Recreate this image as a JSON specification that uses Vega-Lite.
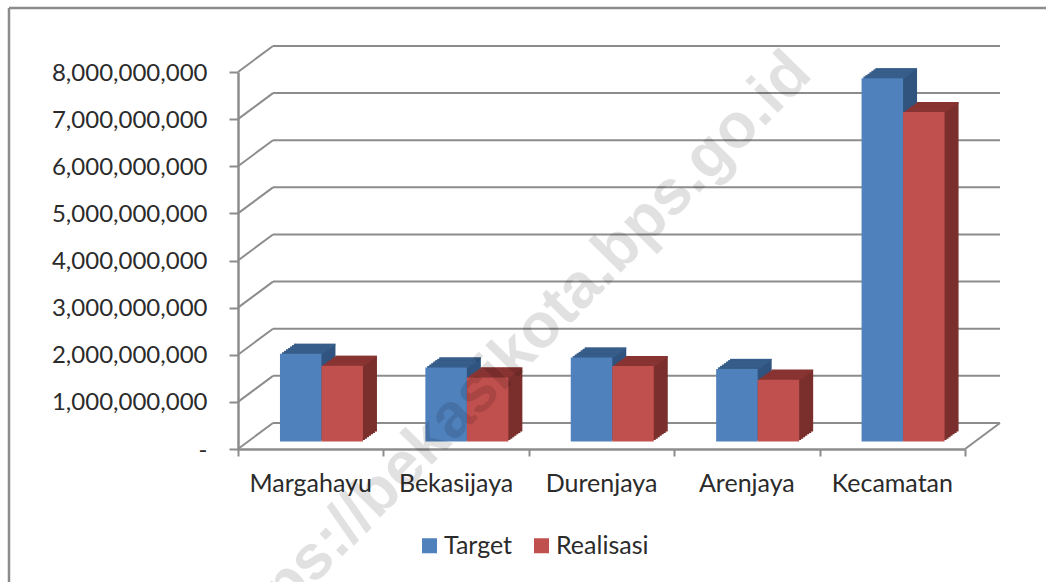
{
"$schema":"https://vega.github.io/schema/vega-lite/v6.json",
"width":727,"height":377,
"autosize":{"type":"none"},
"padding":{"left":238,"top":72,"right":81,"bottom":133},
"background":"white",
"config":{"view":{"stroke":null},"font":"Lato"},
"datasets":{
"bars":[
{"kelurahan":"Margahayu","seri":"Target","nilai":1860000000},
{"kelurahan":"Margahayu","seri":"Realisasi","nilai":1605000000},
{"kelurahan":"Bekasijaya","seri":"Target","nilai":1570000000},
{"kelurahan":"Bekasijaya","seri":"Realisasi","nilai":1360000000},
{"kelurahan":"Durenjaya","seri":"Target","nilai":1780000000},
{"kelurahan":"Durenjaya","seri":"Realisasi","nilai":1600000000},
{"kelurahan":"Arenjaya","seri":"Target","nilai":1540000000},
{"kelurahan":"Arenjaya","seri":"Realisasi","nilai":1310000000},
{"kelurahan":"Kecamatan","seri":"Target","nilai":7710000000},
{"kelurahan":"Kecamatan","seri":"Realisasi","nilai":6990000000}],
"grid":[
{"v":0,"back":552000000},{"v":1000000000,"back":1552000000},{"v":2000000000,"back":2552000000},
{"v":3000000000,"back":3552000000},{"v":4000000000,"back":4552000000},{"v":5000000000,"back":5552000000},
{"v":6000000000,"back":6552000000},{"v":7000000000,"back":7552000000},{"v":8000000000,"back":8552000000}],
"frame":[
{"a":-1.575,"b":5.6,"c":9358000000,"d":9358000000},
{"a":-1.575,"b":-1.575,"c":9358000000,"d":-3000000000}],
"mark":[{"teks":"https://bekasikota.bps.go.id","px":3.961,"py":7915000000}]
},
"resolve":{"scale":{"x":"independent"}},
"layer":[
{"layer":[
{"data":{"name":"frame"},"mark":{"type":"rule","color":"#8c8c8c","strokeWidth":2.5,"clip":false},
 "encoding":{"x":{"field":"a","type":"quantitative","scale":{"domain":[0,5],"nice":false,"zero":false},"axis":{"orient":"bottom","values":[0,1,2,3,4,5],"labels":false,"domain":false,"grid":false,"title":null,"tickSize":7,"tickColor":"#8c8c8c","tickWidth":2}},"x2":{"field":"b"},
 "y":{"field":"c","type":"quantitative","scale":{"domain":[0,8000000000],"nice":false},"axis":{"values":[0,1000000000,2000000000,3000000000,4000000000,5000000000,6000000000,7000000000,8000000000],"labelExpr":"datum.value==0?'-':format(datum.value,',')","labelFontSize":24,"labelColor":"#2b2b2b","labelPadding":22,"labelOffset":1,"tickSize":9,"tickColor":"#8c8c8c","tickWidth":2,"domainColor":"#8c8c8c","domainWidth":2.5,"grid":false,"title":null,"labelFont":"Lato"}},"y2":{"field":"d"}}},
{"data":{"name":"grid"},"mark":{"type":"rule","color":"#8c8c8c","strokeWidth":2},
 "encoding":{"x":{"datum":0.2407,"type":"quantitative"},"x2":{"datum":5.2407},"y":{"field":"back","type":"quantitative"}}},
{"data":{"name":"grid"},"mark":{"type":"rule","color":"#8c8c8c","strokeWidth":2},
 "encoding":{"x":{"datum":0,"type":"quantitative"},"x2":{"datum":0.2407},"y":{"field":"v","type":"quantitative"},"y2":{"field":"back"}}},
{"data":{"name":"grid"},"transform":[{"filter":"datum.v==0"}],"mark":{"type":"rule","color":"#8c8c8c","strokeWidth":2},
 "encoding":{"x":{"datum":5,"type":"quantitative"},"x2":{"datum":5.2407},"y":{"field":"v","type":"quantitative"},"y2":{"field":"back"}}}
]},
{"data":{"name":"bars"},
"resolve":{"scale":{"xOffset":"independent"}},
"encoding":{
"x":{"field":"kelurahan","type":"nominal","sort":["Margahayu","Bekasijaya","Durenjaya","Arenjaya","Kecamatan"],"scale":{"paddingInner":0.43,"paddingOuter":0.215},
 "axis":{"orient":"bottom","title":null,"labelAngle":0,"labelFontSize":25,"labelColor":"#2b2b2b","labelPadding":22,"ticks":false,"domainColor":"#8c8c8c","domainWidth":2.5,"labelFont":"Lato"}},
"y":{"field":"nilai","type":"quantitative"}
},
"layer":[
{"mark":{"type":"bar","yOffset":-17.5},"encoding":{"xOffset":{"field":"seri","type":"nominal","sort":["Target","Realisasi"],"scale":{"domain":["Target","Realisasi"],"range":[24.7,107.7]}},"color":{"condition":{"test":"datum.seri==='Target'","value":"#30547f"},"value":"#7a2f2d"}}},
{"mark":{"type":"tick","yOffset":-16.8,"size":41.5,"thickness":1.8},"encoding":{"xOffset":{"field":"seri","type":"nominal","sort":["Target","Realisasi"],"scale":{"domain":["Target","Realisasi"],"range":[24.7,107.7]}},"color":{"condition":{"test":"datum.seri==='Target'","value":"#3a628f"},"value":"#8e3634"}}},
{"mark":{"type":"bar","yOffset":-16.07},"encoding":{"xOffset":{"field":"seri","type":"nominal","sort":["Target","Realisasi"],"scale":{"domain":["Target","Realisasi"],"range":[22.7,105.7]}},"color":{"condition":{"test":"datum.seri==='Target'","value":"#30547f"},"value":"#7a2f2d"}}},
{"mark":{"type":"tick","yOffset":-15.37,"size":41.5,"thickness":1.8},"encoding":{"xOffset":{"field":"seri","type":"nominal","sort":["Target","Realisasi"],"scale":{"domain":["Target","Realisasi"],"range":[22.7,105.7]}},"color":{"condition":{"test":"datum.seri==='Target'","value":"#3a628f"},"value":"#8e3634"}}},
{"mark":{"type":"bar","yOffset":-14.64},"encoding":{"xOffset":{"field":"seri","type":"nominal","sort":["Target","Realisasi"],"scale":{"domain":["Target","Realisasi"],"range":[20.7,103.7]}},"color":{"condition":{"test":"datum.seri==='Target'","value":"#30547f"},"value":"#7a2f2d"}}},
{"mark":{"type":"tick","yOffset":-13.94,"size":41.5,"thickness":1.8},"encoding":{"xOffset":{"field":"seri","type":"nominal","sort":["Target","Realisasi"],"scale":{"domain":["Target","Realisasi"],"range":[20.7,103.7]}},"color":{"condition":{"test":"datum.seri==='Target'","value":"#3a628f"},"value":"#8e3634"}}},
{"mark":{"type":"bar","yOffset":-13.21},"encoding":{"xOffset":{"field":"seri","type":"nominal","sort":["Target","Realisasi"],"scale":{"domain":["Target","Realisasi"],"range":[18.7,101.7]}},"color":{"condition":{"test":"datum.seri==='Target'","value":"#30547f"},"value":"#7a2f2d"}}},
{"mark":{"type":"tick","yOffset":-12.51,"size":41.5,"thickness":1.8},"encoding":{"xOffset":{"field":"seri","type":"nominal","sort":["Target","Realisasi"],"scale":{"domain":["Target","Realisasi"],"range":[18.7,101.7]}},"color":{"condition":{"test":"datum.seri==='Target'","value":"#3a628f"},"value":"#8e3634"}}},
{"mark":{"type":"bar","yOffset":-11.79},"encoding":{"xOffset":{"field":"seri","type":"nominal","sort":["Target","Realisasi"],"scale":{"domain":["Target","Realisasi"],"range":[16.7,99.7]}},"color":{"condition":{"test":"datum.seri==='Target'","value":"#30547f"},"value":"#7a2f2d"}}},
{"mark":{"type":"tick","yOffset":-11.09,"size":41.5,"thickness":1.8},"encoding":{"xOffset":{"field":"seri","type":"nominal","sort":["Target","Realisasi"],"scale":{"domain":["Target","Realisasi"],"range":[16.7,99.7]}},"color":{"condition":{"test":"datum.seri==='Target'","value":"#3a628f"},"value":"#8e3634"}}},
{"mark":{"type":"bar","yOffset":-10.36},"encoding":{"xOffset":{"field":"seri","type":"nominal","sort":["Target","Realisasi"],"scale":{"domain":["Target","Realisasi"],"range":[14.7,97.7]}},"color":{"condition":{"test":"datum.seri==='Target'","value":"#30547f"},"value":"#7a2f2d"}}},
{"mark":{"type":"tick","yOffset":-9.66,"size":41.5,"thickness":1.8},"encoding":{"xOffset":{"field":"seri","type":"nominal","sort":["Target","Realisasi"],"scale":{"domain":["Target","Realisasi"],"range":[14.7,97.7]}},"color":{"condition":{"test":"datum.seri==='Target'","value":"#3a628f"},"value":"#8e3634"}}},
{"mark":{"type":"bar","yOffset":-8.93},"encoding":{"xOffset":{"field":"seri","type":"nominal","sort":["Target","Realisasi"],"scale":{"domain":["Target","Realisasi"],"range":[12.7,95.7]}},"color":{"condition":{"test":"datum.seri==='Target'","value":"#30547f"},"value":"#7a2f2d"}}},
{"mark":{"type":"tick","yOffset":-8.23,"size":41.5,"thickness":1.8},"encoding":{"xOffset":{"field":"seri","type":"nominal","sort":["Target","Realisasi"],"scale":{"domain":["Target","Realisasi"],"range":[12.7,95.7]}},"color":{"condition":{"test":"datum.seri==='Target'","value":"#3a628f"},"value":"#8e3634"}}},
{"mark":{"type":"bar","yOffset":-7.5},"encoding":{"xOffset":{"field":"seri","type":"nominal","sort":["Target","Realisasi"],"scale":{"domain":["Target","Realisasi"],"range":[10.7,93.7]}},"color":{"field":"seri","type":"nominal","sort":["Target","Realisasi"],"scale":{"domain":["Target","Realisasi"],"range":["#4f81bd","#c0504d"]},
 "legend":{"title":null,"orient":"none","legendX":179,"legendY":461,"direction":"horizontal","symbolType":"square","symbolSize":225,"symbolStrokeWidth":0,"labelFontSize":25,"labelColor":"#2b2b2b","labelFont":"Lato","columnPadding":16,"labelOffset":2}}}}
]},
{"data":{"name":"mark"},"mark":{"type":"text","angle":314.5,"align":"right","baseline":"alphabetic","font":"Liberation Sans","fontWeight":"bold","fontSize":63,"color":"#000000","opacity":0.115},
 "encoding":{"text":{"field":"teks"},"x":{"field":"px","type":"quantitative","scale":{"domain":[0,5],"nice":false,"zero":false},"axis":null},"y":{"field":"py","type":"quantitative"}}}
]
}
